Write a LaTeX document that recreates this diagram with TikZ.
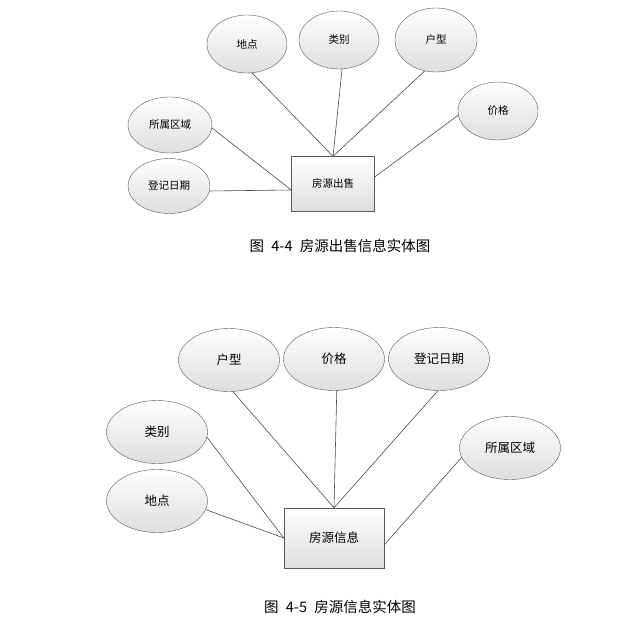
\documentclass[tikz,border=0pt]{standalone}
\usepackage{fontspec}
\newfontfamily\cjkfont{Noto Sans CJK SC}
\usetikzlibrary{
  arrows.meta,
  shapes.geometric
}

\begin{document}
\begin{tikzpicture}[
      x=1pt, y=-1pt,
      attr/.style={ellipse, draw=black!65, top color=white, bottom color=black!13,
                   minimum width=80pt, minimum height=58pt, inner sep=0pt,
                   font=\cjkfont\fontsize{10.5}{12}\selectfont},
      attrbig/.style={attr, minimum width=101pt, minimum height=63pt,
                   font=\cjkfont\fontsize{12.5}{14}\selectfont},
      entity/.style={draw=black!65, top color=white, bottom color=black!13,
                   minimum width=83pt, minimum height=55pt, inner sep=0pt,
                   font=\cjkfont\fontsize{10.5}{12}\selectfont},
      entitybig/.style={entity, minimum width=100pt, minimum height=60pt,
                   font=\cjkfont\fontsize{12.5}{14}\selectfont},
      caption/.style={font=\cjkfont\fontsize{14.5}{16}\selectfont},
      link/.style={draw=black!70, line width=0.6pt}
  ]
      \useasboundingbox (0,0) rectangle (643,630);

      % 房源出售
      \node[entity] (sale) at (333,184) {房源出售};
      \node[attr] (loc1)   at (247,44)  {地点};
      \node[attr] (kind1)  at (339,40)  {类别};
      \node[attr, minimum width=82pt, minimum height=64pt] (house1) at (436,40) {户型};
      \node[attr] (price1) at (498,111) {价格};
      \node[attr, minimum width=84pt, minimum height=56pt] (area1) at (170,125) {所属区域};
      \node[attr, minimum width=82pt, minimum height=55pt] (date1) at (169,186) {登记日期};

      \draw[link] (loc1.280)   -- (sale.north);
      \draw[link] (kind1.276)  -- (sale.north);
      \draw[link] (house1.250) -- (sale.north);
      \draw[link] (price1.186) -- ([yshift=7pt]sale.east);
      \draw[link] (area1.356)  -- ([yshift=-6pt]sale.west);
      \draw[link] (date1.353)  -- ([yshift=-6pt]sale.west);

      \node[caption] (cap1) at (340,246) {图\hspace{0.5em}4-4\hspace{0.5em}房源出售信息实体图};

      % 房源信息
      \node[entitybig] (info) at (334,538) {房源信息};
      \node[attrbig] (house2) at (229,360) {户型};
      \node[attrbig] (price2) at (334,359) {价格};
      \node[attrbig] (date2)  at (439,359) {登记日期};
      \node[attrbig] (kind2)  at (157,432) {类别};
      \node[attrbig] (loc2)   at (157,501) {地点};
      \node[attrbig] (area2)  at (510,448) {所属区域};

      \draw[link] (house2.277) -- (info.north);
      \draw[link] (price2.275) -- (info.north);
      \draw[link] (date2.268)  -- (info.north);
      \draw[link] (kind2.354)  -- (info.west);
      \draw[link] (loc2.350)   -- (info.west);
      \draw[link] (area2.191)  -- ([yshift=-7pt]info.east);

      \node[caption] (cap2) at (340,607) {图\hspace{0.5em}4-5\hspace{0.5em}房源信息实体图};
  \end{tikzpicture}
\end{document}
